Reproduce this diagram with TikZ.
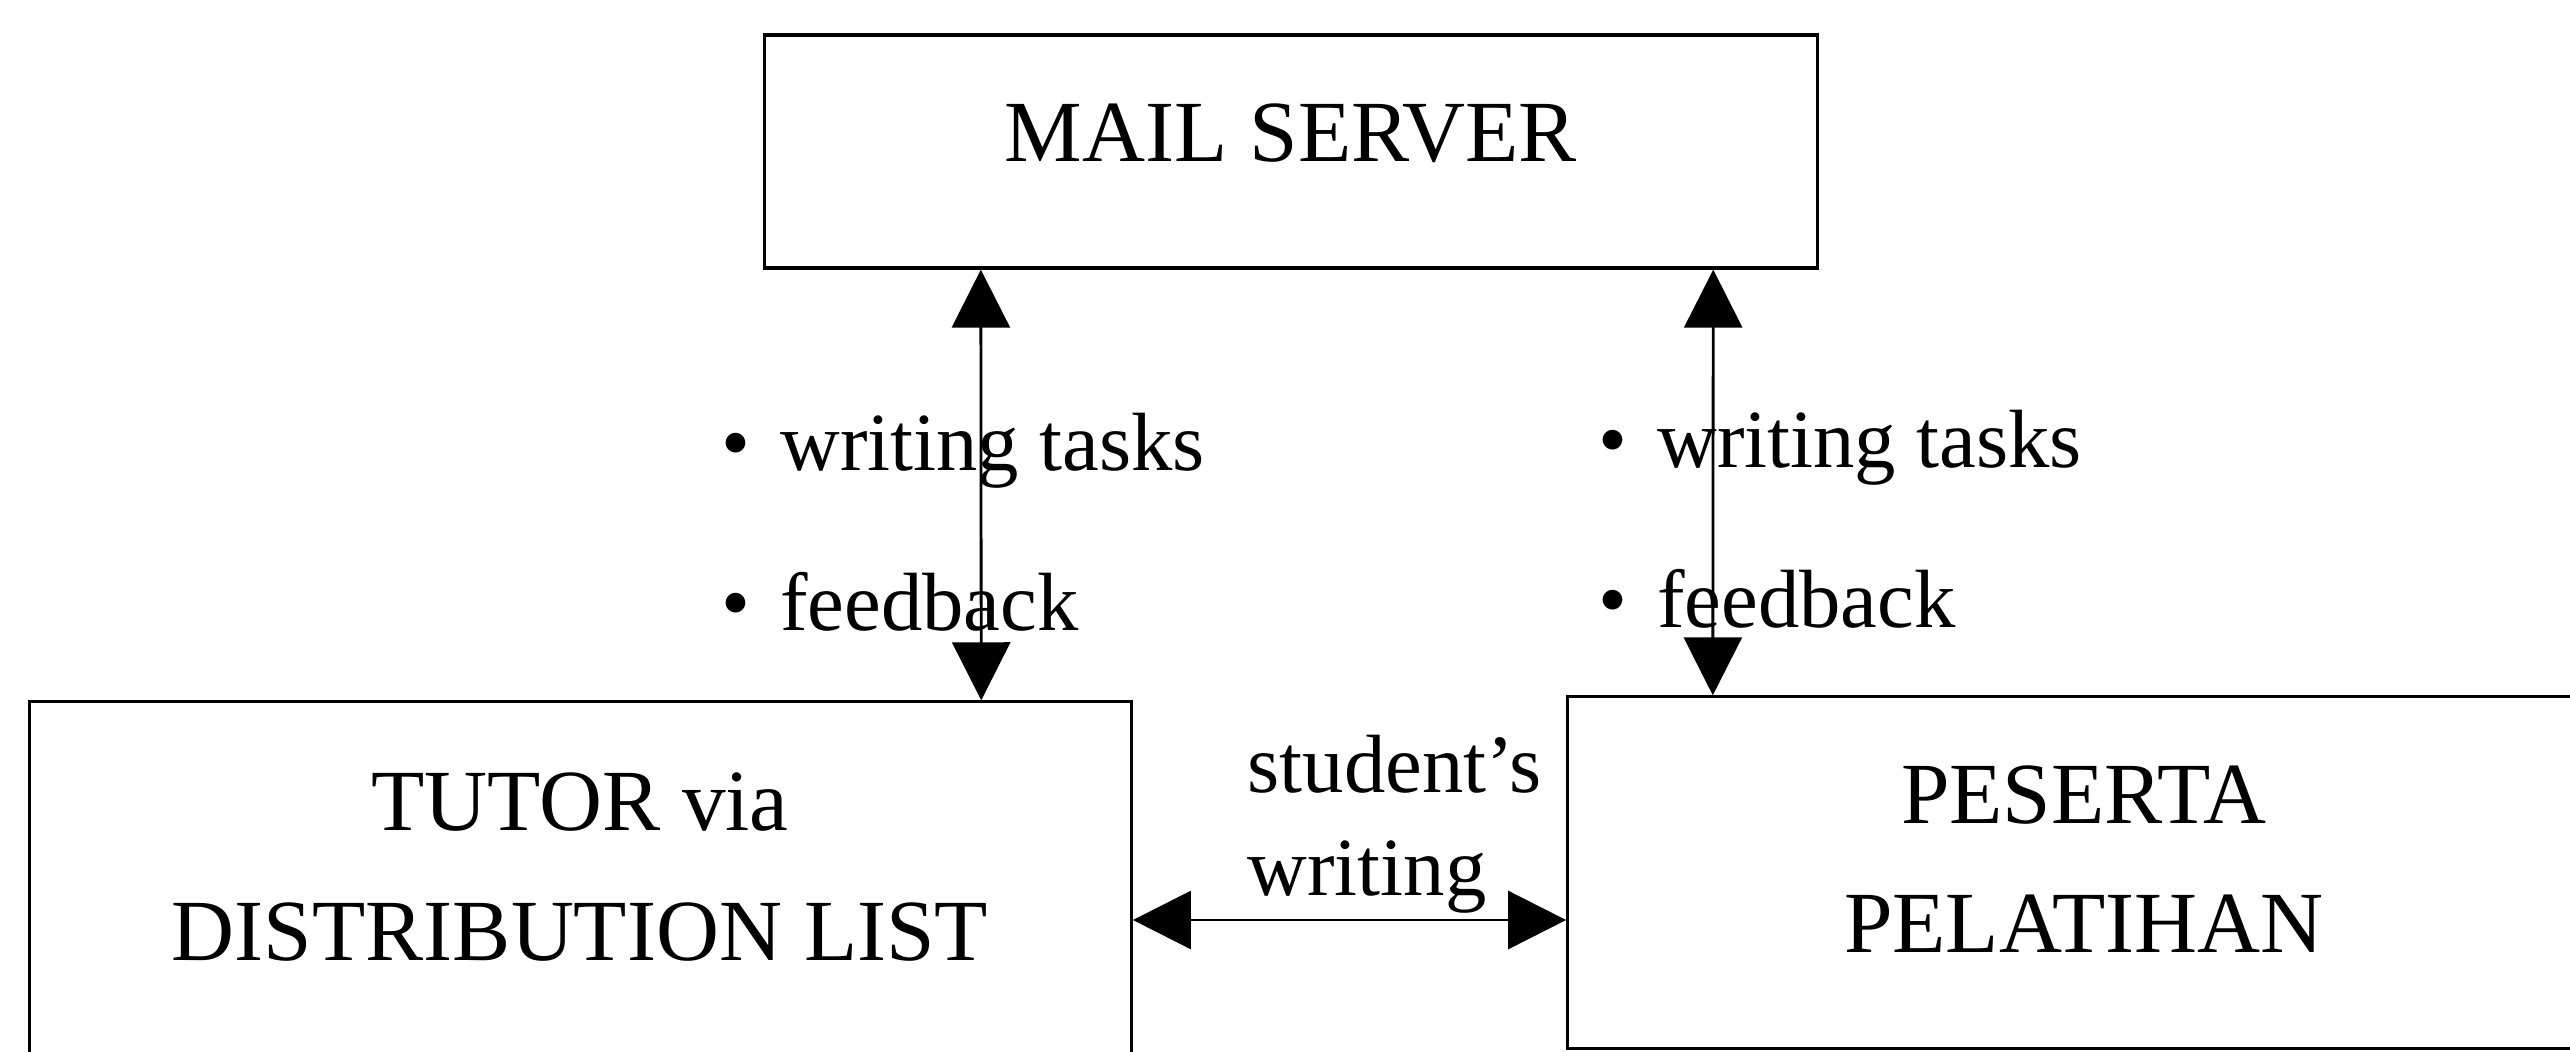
\documentclass[tikz,border=0pt]{standalone}
\usepackage{fontspec}
\setmainfont{Liberation Serif}
\usetikzlibrary{arrows.meta}

\tikzset{
  box/.style={draw,line width=0.9pt,inner sep=0pt},
  boxtext/.style={align=center,inner sep=0pt,font=\fontsize{24.8}{36.9}\selectfont},
  note/.style={align=left,inner sep=0pt,anchor=west},
  link/.style={{Triangle[length=5.8mm,width=5.8mm]}-{Triangle[length=5.8mm,width=5.8mm]},line width=0.8pt},
}

\begin{document}
\begin{tikzpicture}[x=0.01cm,y=-0.01cm]
\useasboundingbox (0,0) rectangle (2570,1051);
% the three boxes
\node[box,minimum width=10.52cm,minimum height=2.33cm] (mail) at (1291,151.5) {};
\node[box,minimum width=11.01cm,minimum height=4.36cm] (tutor) at (580.5,920) {};
\node[box,minimum width=10.32cm,minimum height=3.51cm] (peserta) at (2084,872.5) {};
\node[boxtext,anchor=base] (mailtext) at (1291,161) {MAIL SERVER};
\node[boxtext] (tutortext) at (580,867) {TUTOR via\\DISTRIBUTION LIST};
\node[boxtext] (pesertatext) at (2084,859) {PESERTA\\PELATIHAN};
% what goes along the arrows
\node[note,font=\fontsize{23.5}{45.4}\selectfont] (lefttasks) at (721,522)
  {•\hspace{0.36em}writing tasks\\•\hspace{0.36em}feedback};
\node[note,font=\fontsize{23.5}{45.4}\selectfont] (righttasks) at (1598,519.5)
  {•\hspace{0.36em}writing tasks\\•\hspace{0.36em}feedback};
\node[note,font=\fontsize{23.5}{29.2}\selectfont] (swriting) at (1247,824.5)
  {student's\\writing};
% arrows
\draw[link] ([xshift=-3.1cm]mail.south) -- ([xshift=4.005cm]tutor.north);
\draw[link] ([xshift=4.22cm]mail.south) -- ([xshift=-3.71cm]peserta.north);
\draw[link] (tutor.east) -- (tutor.east -| peserta.west);
\end{tikzpicture}
\end{document}
